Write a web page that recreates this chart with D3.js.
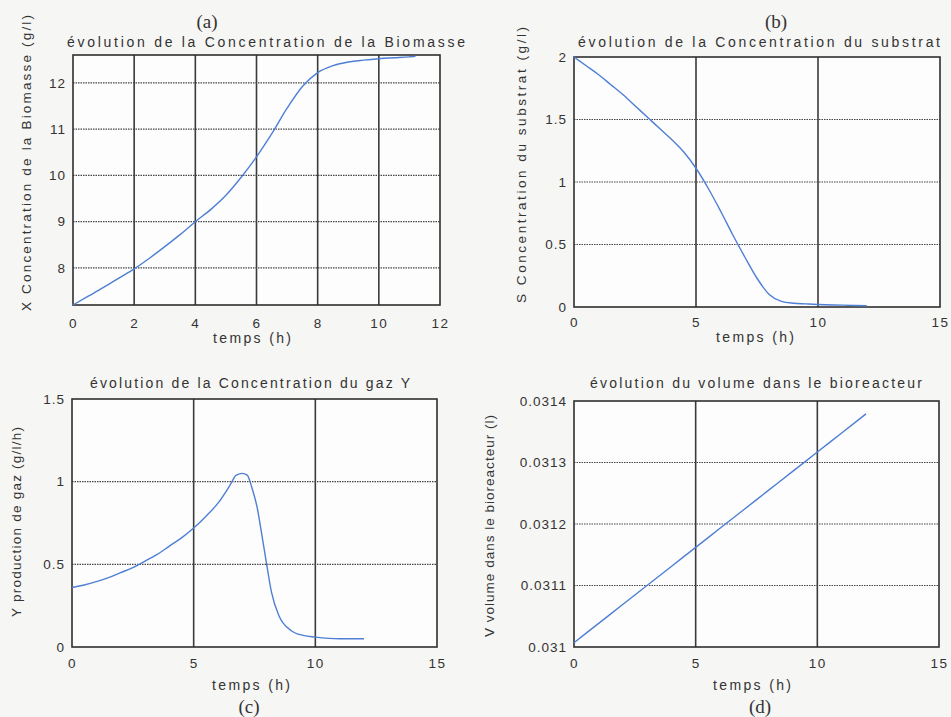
<!DOCTYPE html>
<html><head><meta charset="utf-8">
<script src="https://cdn.jsdelivr.net/npm/d3@7"></script>
<style>
body{margin:0;background:#f6f6f4;}
svg{display:block;}
text{font-family:"Liberation Sans",Arial,sans-serif;fill:#333;}
</style></head>
<body>
<svg id="chart" width="951" height="717"></svg>
<script>
// ---------- data ----------
const timeA = [0,0.5,1,1.5,2,2.5,3,3.5,4,4.5,5,5.5,6,6.5,7,7.5,8,8.5,9,9.5,10,10.5,11,11.2];
const biomasse = [7.2,7.39,7.58,7.78,7.98,8.21,8.46,8.72,9.0,9.26,9.57,9.96,10.4,10.9,11.45,11.92,12.22,12.37,12.45,12.49,12.52,12.54,12.56,12.57];

const timeB = [0,0.5,1,1.5,2,2.5,3,3.5,4,4.5,5,5.5,6,6.5,7,7.5,8,8.5,9,9.5,10,11,12];
const substrat = [2.0,1.93,1.86,1.78,1.70,1.61,1.52,1.43,1.34,1.24,1.11,0.95,0.77,0.58,0.40,0.23,0.10,0.045,0.03,0.025,0.02,0.015,0.01];

const timeC = [0,0.5,1,1.5,2,2.5,3,3.5,4,4.5,5,5.5,6,6.5,6.75,7,7.2,7.4,7.6,7.8,8,8.2,8.5,9,9.5,10,11,12];
const gaz = [0.36,0.375,0.395,0.42,0.45,0.48,0.52,0.56,0.61,0.66,0.72,0.79,0.87,0.98,1.04,1.05,1.04,0.96,0.85,0.68,0.50,0.33,0.19,0.10,0.07,0.06,0.05,0.05];

const timeD = [0,1,2,3,4,5,6,7,8,9,10,11,12];
const volume = [0.031007,0.031038,0.031069,0.031100,0.031131,0.031162,0.031193,0.031224,0.031255,0.031286,0.031317,0.031348,0.031379];

const xTicksA = [0,2,4,6,8,10,12];
const yTicksA = [8,9,10,11,12];
const xTicks15 = [0,5,10,15];
const yTicksB = [0,0.5,1,1.5,2];
const yTicksC = [0,0.5,1,1.5];
const yTicksD = [0.031,0.0311,0.0312,0.0313,0.0314];
const yTickLabelsD = ["0.031","0.0311","0.0312","0.0313","0.0314"];

const titles = ["évolution de la Concentration de la Biomasse","évolution de  la Concentration du substrat","évolution de la Concentration du gaz Y","évolution du volume dans le bioreacteur"];
const yLabels = ["X Concentration de la Biomasse (g/l)","S Concentration du substrat (g/l)","Y production de gaz  (g/l/h)","V volume dans le bioreacteur (l)"];
const xLabel = "temps (h)";
const panelTags = ["(a)","(b)","(c)","(d)"];

// ---------- drawing ----------
const svg = d3.select("#chart");
const lineColor = "#4f7fd4";

const panels = [
 {t:timeA,v:biomasse,xd:[0,12],yd:[7.2,12.6],xt:xTicksA,yt:yTicksA,yl:null,
  L:73,R:440,T:55,B:305, title:{x:266,y:47,w:398}, tag:{x:207,y:28},
  ylab:{x:26,y:163,w:296}, xlab:{x:252,y:343}, tickY:328},
 {t:timeB,v:substrat,xd:[0,15],yd:[0,2],xt:xTicks15,yt:yTicksB,yl:null,
  L:574,R:940,T:57,B:307, title:{x:759,y:47,w:362}, tag:{x:776,y:28},
  ylab:{x:521,y:165,w:276}, xlab:{x:755,y:342}, tickY:327},
 {t:timeC,v:gaz,xd:[0,15],yd:[0,1.5],xt:xTicks15,yt:yTicksC,yl:null,
  L:72,R:437,T:399,B:647, title:{x:250,y:388,w:320}, tag:{x:249,y:713},
  ylab:{x:16,y:522,w:190}, xlab:{x:251,y:690}, tickY:668},
 {t:timeD,v:volume,xd:[0,15],yd:[0.031,0.0314],xt:xTicks15,yt:yTicksD,yl:yTickLabelsD,
  L:574,R:939,T:401,B:647, title:{x:756,y:388,w:332}, tag:{x:760,y:713},
  ylab:{x:489,y:526,w:222}, xlab:{x:752,y:690}, tickY:668}
];

panels.forEach((p,i)=>{
  const x = d3.scaleLinear().domain(p.xd).range([p.L,p.R]);
  const y = d3.scaleLinear().domain(p.yd).range([p.B,p.T]);
  const g = svg.append("g");

  g.append("rect").attr("x",p.L).attr("y",p.T).attr("width",p.R-p.L).attr("height",p.B-p.T)
    .attr("fill","#fdfdfd");

  g.selectAll(".vg").data(p.xt.filter(d=>d>p.xd[0]&&d<p.xd[1])).join("line")
    .attr("x1",d=>x(d)).attr("x2",d=>x(d)).attr("y1",p.T).attr("y2",p.B)
    .attr("stroke","#3a3a3a").attr("stroke-width",1.6);
  g.selectAll(".hg").data(p.yt.filter(d=>d>p.yd[0]+1e-9&&d<p.yd[1]-1e-9)).join("line")
    .attr("x1",p.L).attr("x2",p.R).attr("y1",d=>y(d)).attr("y2",d=>y(d))
    .attr("stroke","#444").attr("stroke-width",1.2).attr("stroke-dasharray","1.5,1");

  const ax = d3.axisBottom(x).tickValues(p.xt).tickSize(0).tickPadding(0).tickFormat(d3.format("d"));
  const gx = g.append("g").attr("transform",`translate(0,${p.tickY})`).call(ax);
  gx.select(".domain").remove();
  gx.selectAll("text").attr("dy",0).attr("y",0).style("font-size","13.5px").style("letter-spacing","1.5px")
    .attr("font-family","Liberation Sans, Arial").attr("fill","#333");

  const ay = d3.axisLeft(y).tickValues(p.yt).tickSize(0).tickPadding(7)
    .tickFormat((d,k)=> p.yl ? p.yl[k] : String(d));
  const gy = g.append("g").attr("transform",`translate(${p.L},0)`).call(ay);
  gy.select(".domain").remove();
  gy.selectAll("text").style("font-size","13.5px").style("letter-spacing","1px")
    .attr("font-family","Liberation Sans, Arial").attr("fill","#333");

  g.append("rect").attr("x",p.L).attr("y",p.T).attr("width",p.R-p.L).attr("height",p.B-p.T)
    .attr("fill","none").attr("stroke","#2f2f2f").attr("stroke-width",1.6);

  const data = p.t.map((t,k)=>[t,p.v[k]]);
  g.append("path").datum(data)
    .attr("d",d3.line().x(d=>x(d[0])).y(d=>y(d[1])).curve(d3.curveMonotoneX))
    .attr("fill","none").attr("stroke",lineColor).attr("stroke-width",1.4);

  g.append("text").attr("x",p.title.x).attr("y",p.title.y).attr("text-anchor","middle")
    .attr("textLength",p.title.w).attr("lengthAdjust","spacing")
    .style("font-size","14px").text(titles[i]);
  g.append("text").attr("x",p.tag.x).attr("y",p.tag.y).attr("text-anchor","middle")
    .style("font-family","Liberation Serif, Times New Roman, serif").style("font-size","19px").text(panelTags[i]);
  g.append("text").attr("x",p.xlab.x).attr("y",p.xlab.y).attr("text-anchor","middle")
    .attr("textLength",78).attr("lengthAdjust","spacing")
    .style("font-size","14px").text(xLabel);
  g.append("text").attr("transform",`translate(${p.ylab.x+5},${p.ylab.y}) rotate(-90)`)
    .attr("text-anchor","middle").attr("textLength",p.ylab.w).attr("lengthAdjust","spacing")
    .style("font-size","13.5px").text(yLabels[i]);
});
</script>
</body></html>
